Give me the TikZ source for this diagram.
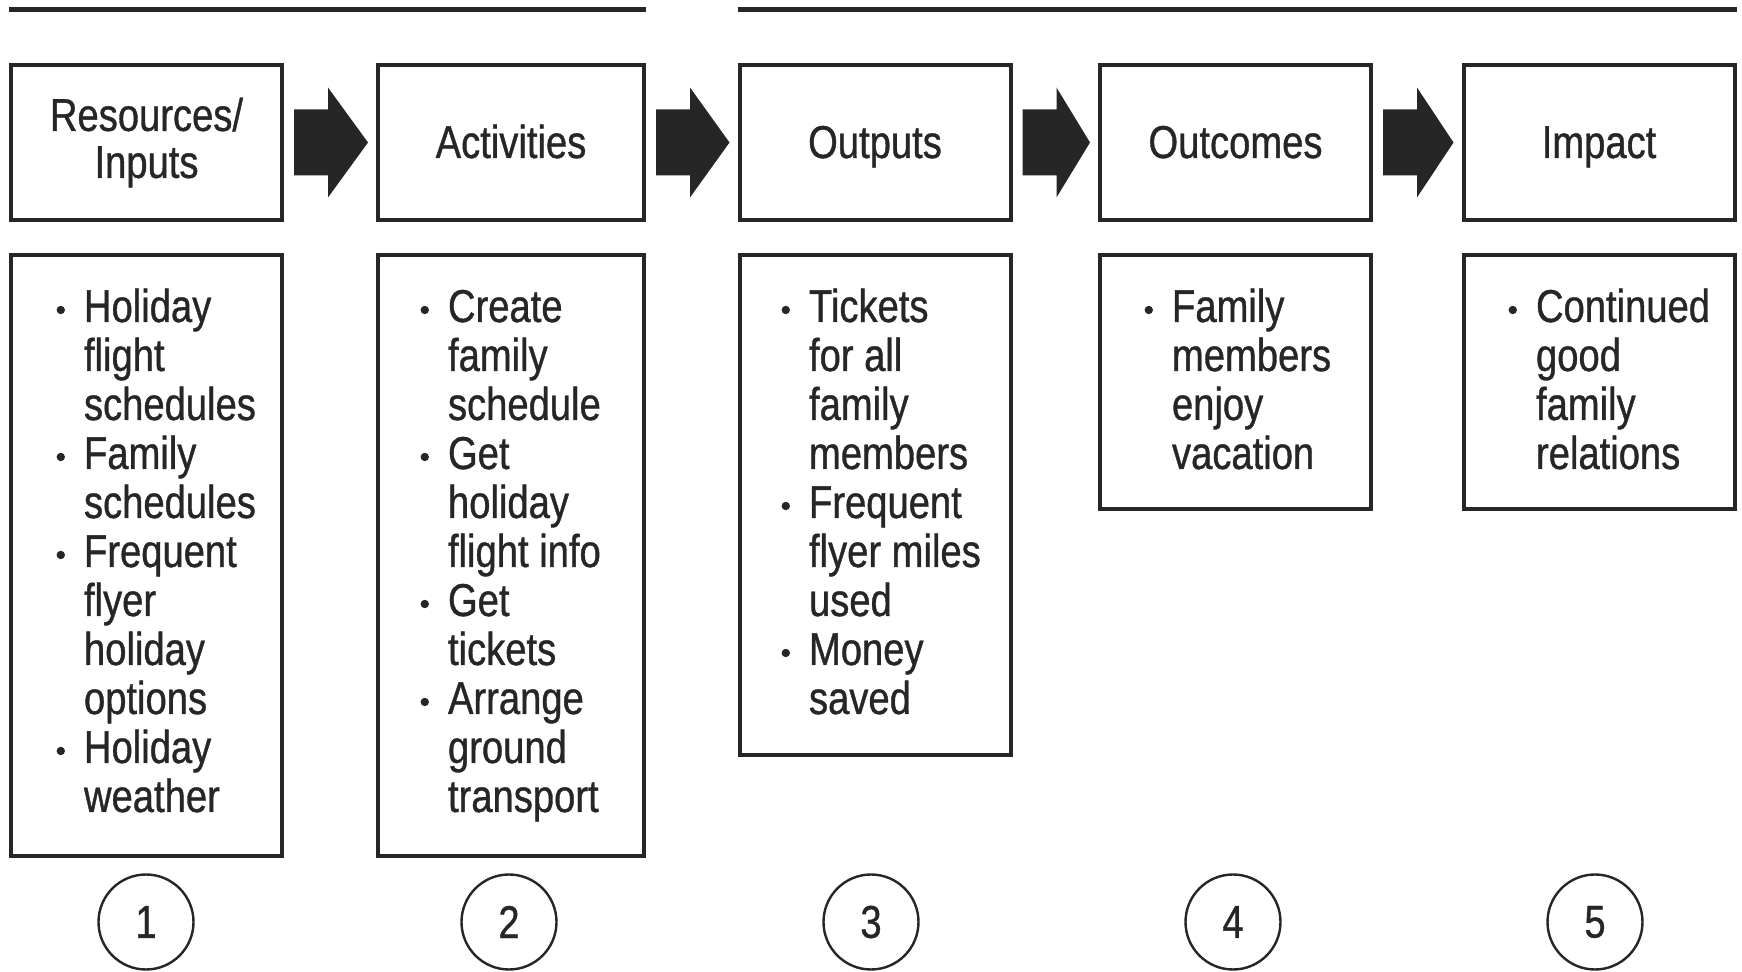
\documentclass[tikz,border=0pt]{standalone}
\usepackage{fontspec}
\setmainfont{Liberation Sans}[FakeStretch=0.83, FakeBold=0.8]
\usetikzlibrary{calc}
\definecolor{ink}{HTML}{262626}
% bullet that hangs to the left of the item text
\newcommand\bul{\par\noindent\llap{\raisebox{3.9pt}{\tikz\fill[ink] (0,0) circle (2.1pt);}\kern 9.5pt}}
% block arrow from one stage box to the next
\newcommand\flow[2]{%
  \fill[ink] ($(#1.east)+(12,-33)$) -- ($(#1.east)+(46,-33)$) -- ($(#1.east)+(46,-55)$)
    -- ($(#2.west)+(-10,0)$)
    -- ($(#1.east)+(46,55)$) -- ($(#1.east)+(46,33)$) -- ($(#1.east)+(12,33)$) -- cycle;}
\begin{document}
\begin{tikzpicture}[x=0.5pt,y=-0.5pt,
  every node/.style={inner sep=0pt, outer sep=0pt, text=ink},
  headbox/.style={draw=ink, line width=2pt, minimum width=135.5pt, minimum height=77.5pt,
    align=center, font=\fontsize{23}{23.5}\selectfont},
  oneline/.style={text height=18pt, text depth=2.5pt},
  listbox/.style={draw=ink, line width=2pt, minimum width=135.5pt, anchor=north},
  listtext/.style={anchor=base west, font=\fontsize{23}{24.5}\selectfont},
  numcircle/.style={draw=ink, line width=1.2pt, circle, minimum size=47.5pt,
    font=\fontsize{23}{23}\selectfont},
  rule/.style={draw=ink, line width=2.5pt}]
\useasboundingbox (0,0) rectangle (1742,972);

% stage headers
\node[headbox] (h1) at (146.5,142.5) {Resources/\\Inputs};
\node[headbox, oneline, minimum width=133pt] (h2) at (511,142.5) {Activities};
\node[headbox, oneline] (h3) at (875,142.5) {Outputs};
\node[headbox, oneline] (h4) at (1235.5,142.5) {Outcomes};
\node[headbox, oneline] (h5) at (1599,142.5) {Impact};

% rules over the planned work and the intended results
\draw[rule] ($(h1.north west)+(-2,-55.5)$) -- ($(h2.north east)+(2,-55.5)$);
\draw[rule] ($(h3.north west)+(-2,-55.5)$) -- ($(h5.north east)+(2,-55.5)$);

% arrows between stages
\flow{h1}{h2}
\flow{h2}{h3}
\flow{h3}{h4}
\flow{h4}{h5}

% item boxes
\node[listbox, minimum height=300.5pt] (b1) at (146.5,255) {};
\node[listbox, minimum height=300.5pt, minimum width=133pt] (b2) at (511,255) {};
\node[listbox, minimum height=250pt] (b3) at (875,255) {};
\node[listbox, minimum height=127pt] (b4) at (1235.5,255) {};
\node[listbox, minimum height=127pt] (b5) at (1599,255) {};

% item texts
\node[listtext] (l1) at (84,322) {\parbox[t]{110pt}{\raggedright
  \bul Holiday\\flight\\schedules
  \bul Family\\schedules
  \bul Frequent\\flyer\\holiday\\options
  \bul Holiday\\weather}};
\node[listtext] (l2) at (448,322) {\parbox[t]{110pt}{\raggedright
  \bul Create\\family\\schedule
  \bul Get\\holiday\\flight info
  \bul Get\\tickets
  \bul Arrange\\ground\\transport}};
\node[listtext] (l3) at (809,322) {\parbox[t]{110pt}{\raggedright
  \bul Tickets\\for all\\family\\members
  \bul Frequent\\flyer miles\\used
  \bul Money\\saved}};
\node[listtext] (l4) at (1172,322) {\parbox[t]{110pt}{\raggedright
  \bul Family\\members\\enjoy\\vacation}};
\node[listtext] (l5) at (1536,322) {\parbox[t]{110pt}{\raggedright
  \bul Continued\\good\\family\\relations}};

% stage numbers
\node[numcircle] (n1) at (146,922) {1};
\node[numcircle] (n2) at (509,922) {2};
\node[numcircle] (n3) at (871,922) {3};
\node[numcircle] (n4) at (1233,922) {4};
\node[numcircle] (n5) at (1595,922) {5};
\end{tikzpicture}
\end{document}
